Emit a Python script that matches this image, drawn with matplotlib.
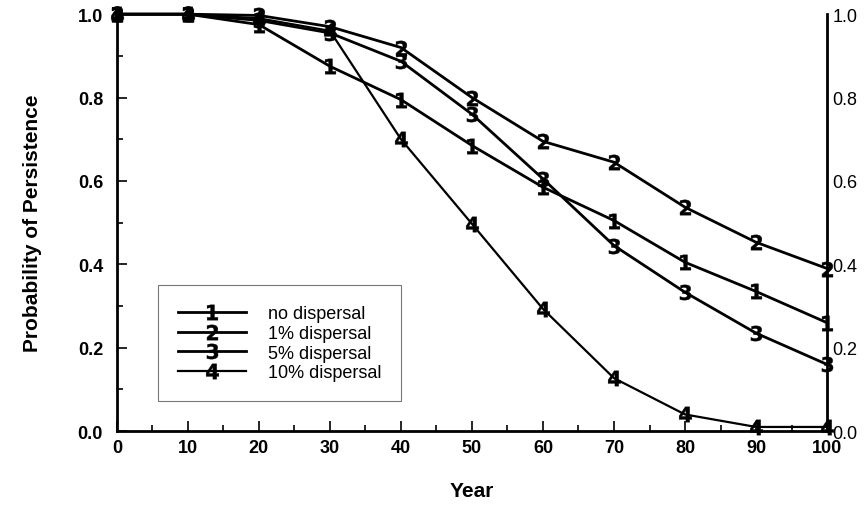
import matplotlib
matplotlib.use("Agg")
import matplotlib.pyplot as plt
from matplotlib.ticker import MultipleLocator

plt.rcParams['font.family'] = ['Liberation Sans', 'DejaVu Sans']

years = [0, 10, 20, 30, 40, 50, 60, 70, 80, 90, 100]
no_disp = [1.0, 1.0, 0.975, 0.875, 0.795, 0.685, 0.585, 0.505, 0.405, 0.335, 0.26]
disp_1 = [1.0, 1.0, 0.997, 0.97, 0.92, 0.80, 0.695, 0.645, 0.537, 0.453, 0.39]
disp_5 = [1.0, 1.0, 0.985, 0.955, 0.887, 0.76, 0.605, 0.445, 0.333, 0.235, 0.16]
disp_10 = [1.0, 1.0, 0.99, 0.96, 0.70, 0.497, 0.293, 0.127, 0.04, 0.01, 0.01]

series = [(no_disp, "1", "no dispersal", 2.0),
          (disp_1, "2", "1% dispersal", 2.0),
          (disp_5, "3", "5% dispersal", 2.0),
          (disp_10, "4", "10% dispersal", 1.6)]

fig = plt.figure(figsize=(8.66, 5.06), dpi=100)
ax = fig.add_axes([0.135, 0.146, 0.82, 0.824])

for vals, num, label, lw in series:
    ax.plot(years, vals, color='black', lw=lw, marker=r'$\mathbf{' + num + '}$',
            markersize=11, markeredgewidth=0.3, label=label, clip_on=False)

ax.set_xlim(0, 100)
ax.set_ylim(0, 1.0)
ax.xaxis.set_major_locator(MultipleLocator(10))
ax.xaxis.set_minor_locator(MultipleLocator(5))
ax.yaxis.set_major_locator(MultipleLocator(0.2))
ax.yaxis.set_minor_locator(MultipleLocator(0.1))
ax.yaxis.set_major_formatter(plt.FormatStrFormatter('%.1f'))

ax.spines['top'].set_visible(False)
for s in ['left', 'bottom', 'right']:
    ax.spines[s].set_linewidth(2)

ax.tick_params(which='both', direction='in', width=1.2, top=False, right=True)
ax.tick_params(which='major', length=7)
ax.tick_params(which='minor', length=4)
ax.tick_params(axis='y', pad=10)
ax.tick_params(axis='x', pad=6)
for lab in ax.get_xticklabels() + ax.get_yticklabels():
    lab.set_fontweight('bold')
    lab.set_fontsize(13)

ax2 = ax.twinx()
ax2.set_ylim(0, 1.0)
ax2.yaxis.set_major_locator(MultipleLocator(0.2))
ax2.yaxis.set_major_formatter(plt.FormatStrFormatter('%.1f'))
ax2.tick_params(which='both', direction='in', length=0, labelsize=13, pad=4)
for s in ax2.spines.values():
    s.set_visible(False)

ax.set_xlabel("Year", fontsize=15, fontweight='bold', labelpad=18)
ax.set_ylabel("Probability of Persistence", fontsize=15, fontweight='bold', labelpad=26)

leg = ax.legend(loc='lower left', bbox_to_anchor=(0.045, 0.05), fontsize=13,
                frameon=True, fancybox=False, edgecolor='#555555',
                handlelength=3.8, borderpad=1.1, labelspacing=0.15, handletextpad=1.2)
leg.get_frame().set_linewidth(0.8)

fig.savefig("out.png", dpi=100)
